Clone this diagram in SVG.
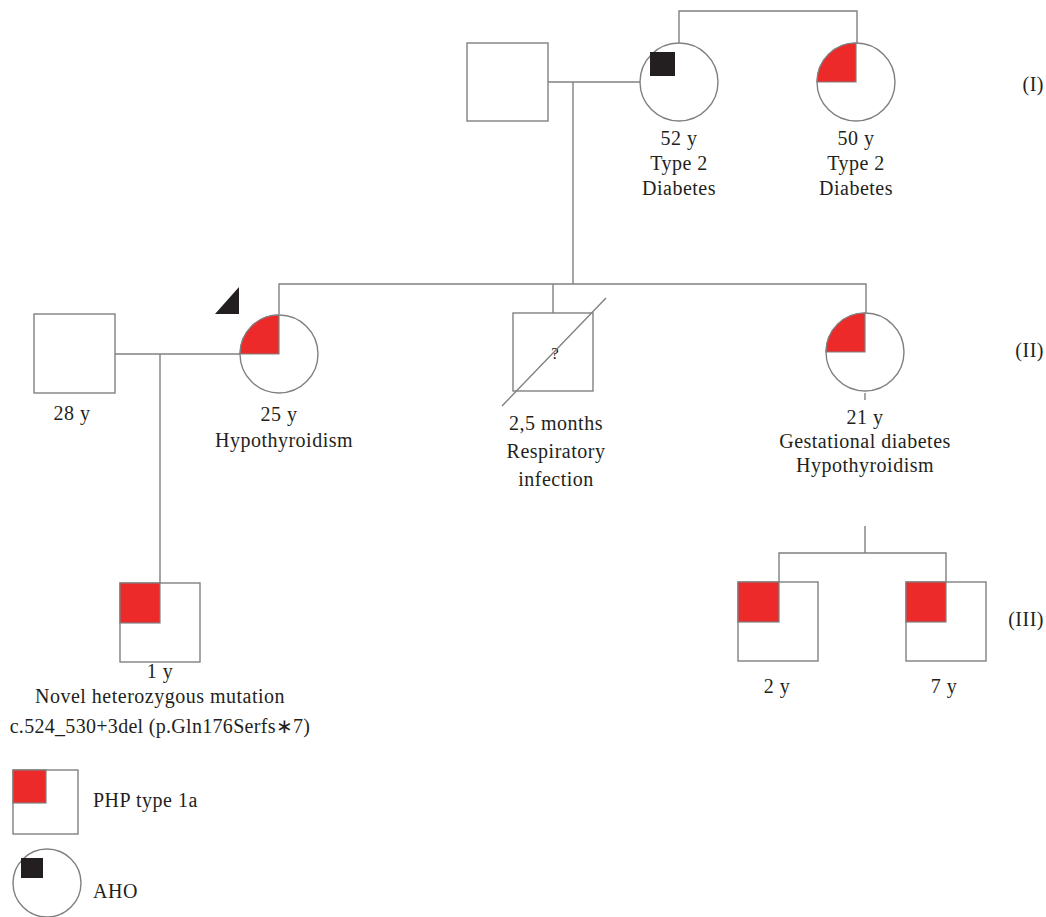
<svg xmlns="http://www.w3.org/2000/svg" width="1046" height="917" viewBox="0 0 1046 917">
<style>
.ln{fill:none;stroke:#808080;stroke-width:1.4}
.sh{fill:#fff;stroke:#808080;stroke-width:1.4}
.red{fill:#ec2a2a;stroke:#808080;stroke-width:1.2}
.blk{fill:#231f20}
text{font-family:"Liberation Serif",serif;font-size:20px;letter-spacing:0.5px;fill:#231f20;text-anchor:middle}
.lg{text-anchor:start}
.gen{text-anchor:end}
</style>
<rect width="1046" height="917" fill="#fff"/>
<g id="connectors">
<polyline class="ln" points="679,43 679,11 857,11 857,43"/>
<line class="ln" x1="548" y1="82" x2="640" y2="82"/>
<line class="ln" x1="573" y1="82" x2="573" y2="284"/>
<polyline class="ln" points="279,314 279,284 866,284 866,313"/>
<line class="ln" x1="553" y1="284" x2="553" y2="313"/>
<line class="ln" x1="115" y1="354" x2="240" y2="354"/>
<line class="ln" x1="160" y1="354" x2="160" y2="583"/>
<line class="ln" x1="865" y1="393" x2="865" y2="400"/>
<line class="ln" x1="865" y1="526" x2="865" y2="553"/>
<polyline class="ln" points="779,582 779,553 946,553 946,582"/>
</g>
<g id="I1">
<rect class="sh" x="467" y="43" width="81" height="78"/>
</g>
<g id="I2">
<circle class="sh" cx="679" cy="82" r="39"/>
<rect class="blk" x="650" y="52" width="25" height="24"/>
<text x="679" y="145">52 y</text>
<text x="679" y="170">Type 2</text>
<text x="679" y="195">Diabetes</text>
</g>
<g id="I3">
<circle class="sh" cx="856" cy="82" r="39"/>
<path class="red" d="M856,82 L817,82 A39,39 0 0 1 856,43 Z"/>
<text x="856" y="145">50 y</text>
<text x="856" y="170">Type 2</text>
<text x="856" y="195">Diabetes</text>
</g>
<text class="gen" x="1044" y="91">(I)</text>
<g id="II1">
<rect class="sh" x="34" y="314" width="81" height="79"/>
<text x="72" y="420">28 y</text>
</g>
<g id="II2">
<circle class="sh" cx="279" cy="354" r="39"/>
<path class="red" d="M279,354 L240,354 A39,39 0 0 1 279,315 Z"/>
<polygon class="blk" points="215,314 239,314 239,287"/>
<text x="279" y="421">25 y</text>
<text x="284" y="447">Hypothyroidism</text>
</g>
<g id="II3">
<rect class="sh" x="513" y="313" width="80" height="78"/>
<text x="555" y="359" style="font-size:17px;letter-spacing:0">?</text>
<line class="ln" x1="502" y1="406" x2="606" y2="298"/>
<text x="556" y="430">2,5 months</text>
<text x="556" y="458">Respiratory</text>
<text x="556" y="486">infection</text>
</g>
<g id="II4">
<circle class="sh" cx="865" cy="352" r="39"/>
<path class="red" d="M865,352 L826,352 A39,39 0 0 1 865,313 Z"/>
<text x="865" y="424">21 y</text>
<text x="865" y="448">Gestational diabetes</text>
<text x="865" y="472">Hypothyroidism</text>
</g>
<text class="gen" x="1044" y="357">(II)</text>
<g id="III1">
<rect class="sh" x="120" y="583" width="80" height="79"/>
<rect class="red" x="120" y="583" width="40" height="40"/>
<text x="160" y="678">1 y</text>
<text x="160" y="703">Novel heterozygous mutation</text>
<text x="160" y="733" style="letter-spacing:0.3px">c.524_530+3del (p.Gln176Serfs∗7)</text>
</g>
<g id="III2">
<rect class="sh" x="738" y="582" width="80" height="79"/>
<rect class="red" x="738" y="582" width="41" height="40"/>
<text x="777" y="693">2 y</text>
</g>
<g id="III3">
<rect class="sh" x="906" y="582" width="80" height="79"/>
<rect class="red" x="906" y="582" width="40" height="40"/>
<text x="944" y="693">7 y</text>
</g>
<text class="gen" x="1044" y="626">(III)</text>
<g id="legend">
<rect class="sh" x="13" y="770" width="65" height="64"/>
<rect class="red" x="13" y="770" width="33" height="33"/>
<text class="lg" x="93" y="807">PHP type 1a</text>
<circle class="sh" cx="47" cy="883" r="34"/>
<rect class="blk" x="21" y="858" width="22" height="20"/>
<text class="lg" x="93" y="898">AHO</text>
</g>
</svg>
